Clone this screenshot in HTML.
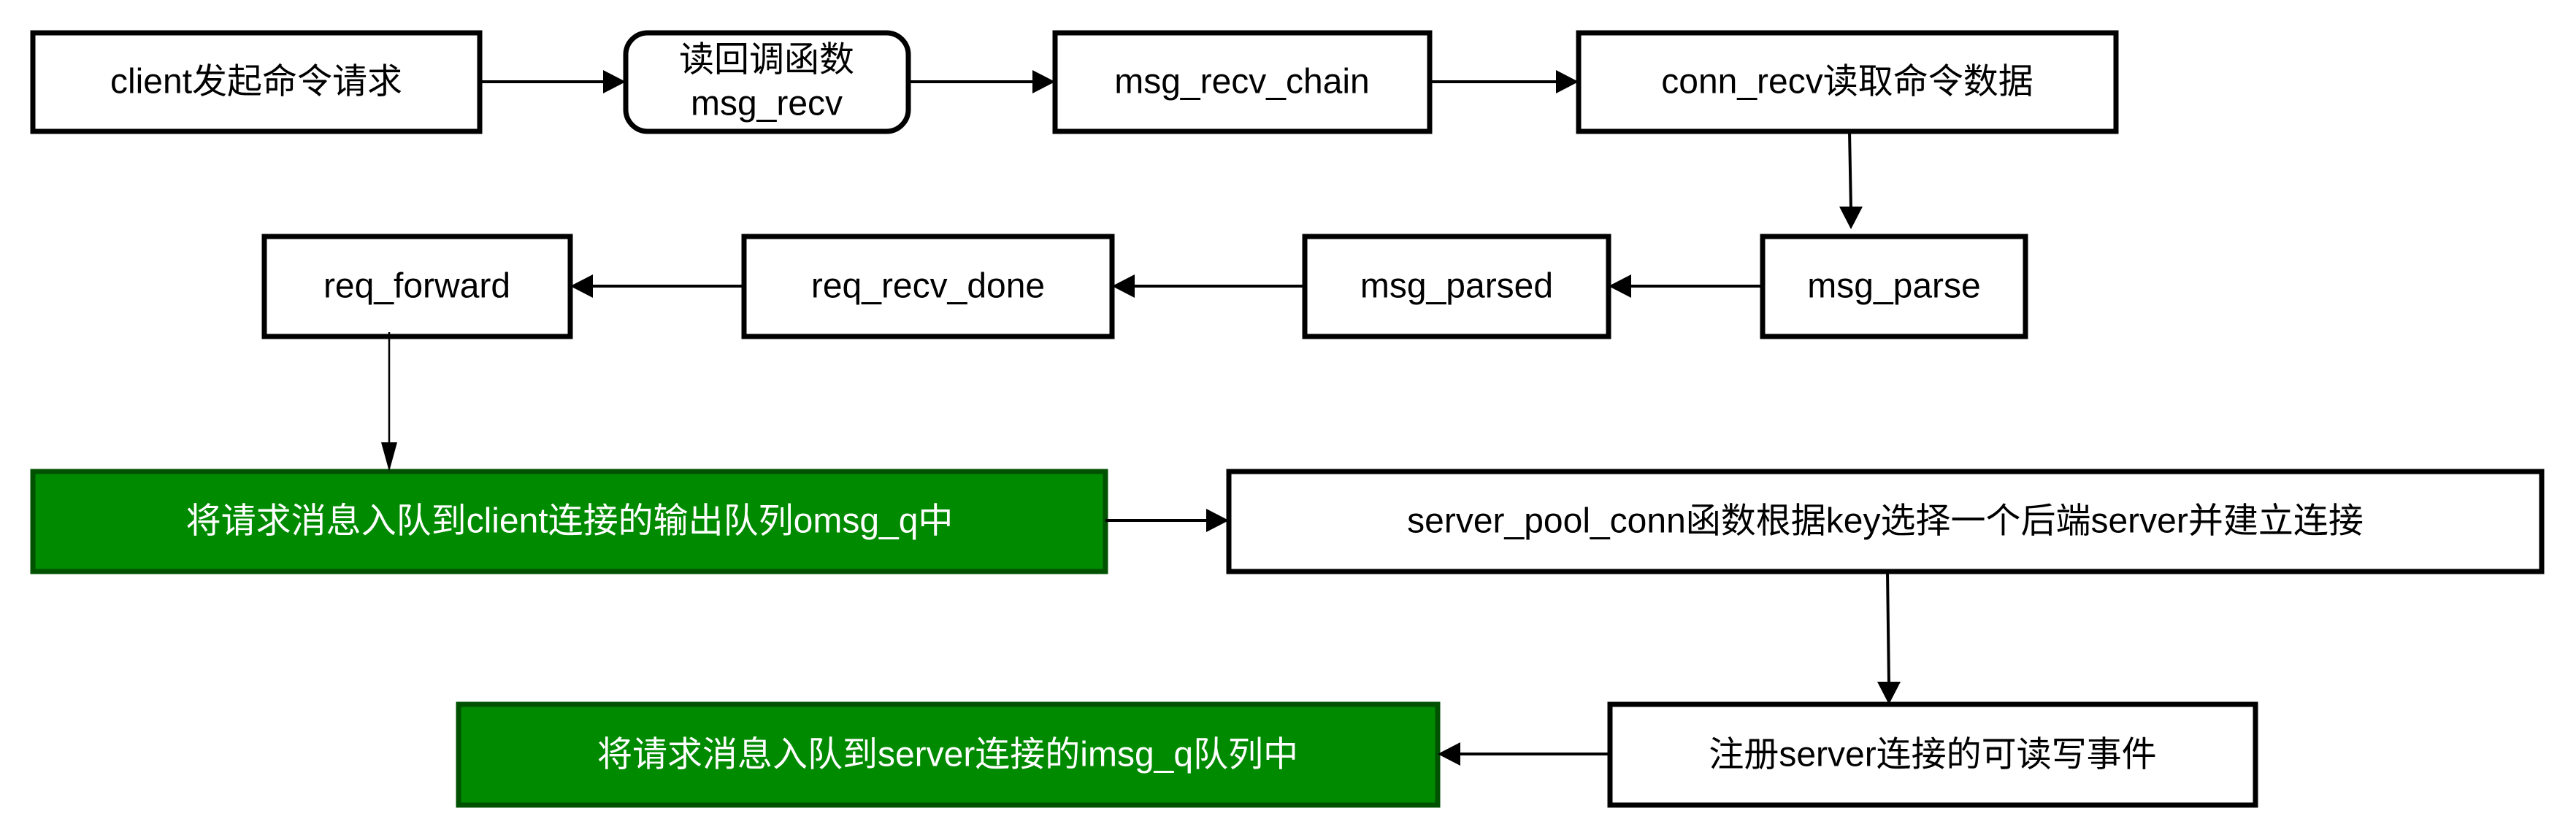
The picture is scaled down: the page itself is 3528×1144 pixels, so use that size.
<!DOCTYPE html>
<html><head><meta charset="utf-8"><style>
html,body{margin:0;padding:0;background:#fff}
svg{display:block}
text{font-family:"Liberation Sans","Noto Sans CJK SC",sans-serif;font-size:48px;text-anchor:middle;dominant-baseline:central}
</style></head><body>
<svg width="3528" height="1144" viewBox="0 0 3528 1144" xmlns="http://www.w3.org/2000/svg">
<g fill="#fff" stroke="#000" stroke-width="7">
<rect x="45" y="45" width="612" height="135"/>
<rect x="857" y="45" width="387" height="135" rx="30"/>
<rect x="1445" y="45" width="513" height="135"/>
<rect x="2162" y="45" width="736" height="135"/>
<rect x="362" y="324" width="419" height="137"/>
<rect x="1019" y="324" width="504" height="137"/>
<rect x="1787" y="324" width="416" height="137"/>
<rect x="2414" y="324" width="360" height="137"/>
<rect x="1683" y="646" width="1798" height="137"/>
<rect x="2205" y="965" width="884" height="138"/>
</g>
<g fill="#008a00" stroke="#005200" stroke-width="7">
<rect x="45" y="646" width="1469" height="137"/>
<rect x="628" y="965" width="1341" height="138"/>
</g>
<g stroke="#000" stroke-width="4" fill="none">
<line x1="657" y1="112" x2="830" y2="112"/>
<line x1="1244" y1="112" x2="1418" y2="112"/>
<line x1="1958" y1="112" x2="2135" y2="112"/>
<line x1="2533" y1="180" x2="2535" y2="287"/>
<line x1="2414" y1="392" x2="2230" y2="392"/>
<line x1="1787" y1="392" x2="1550" y2="392"/>
<line x1="1019" y1="392" x2="808" y2="392"/>
<line x1="533" y1="455" x2="533" y2="620" stroke-width="2.5"/>
<line x1="1514" y1="713" x2="1656" y2="713"/>
<line x1="2585" y1="783" x2="2587" y2="938"/>
<line x1="2205" y1="1033" x2="1996" y2="1033"/>
</g>
<g fill="#000">
<polygon points="857,112 826,96 826,128"/>
<polygon points="1445,112 1414,96 1414,128"/>
<polygon points="2162,112 2131,96 2131,128"/>
<polygon points="2535,314 2519,283 2551,283"/>
<polygon points="2203,392 2234,376 2234,408"/>
<polygon points="1523,392 1554,376 1554,408"/>
<polygon points="781,392 812,376 812,408"/>
<polygon points="533,646 522,606 544,606"/>
<polygon points="1683,713 1652,697 1652,729"/>
<polygon points="2587,965 2571,934 2603,934"/>
<polygon points="1969,1033 2000,1017 2000,1049"/>
</g>
<g fill="#000">
<text x="351" y="112">client发起命令请求</text>
<text x="1050" y="82">读回调函数</text>
<text x="1050" y="142">msg_recv</text>
<text x="1701" y="112">msg_recv_chain</text>
<text x="2530" y="112">conn_recv读取命令数据</text>
<text x="571" y="392">req_forward</text>
<text x="1271" y="392">req_recv_done</text>
<text x="1995" y="392">msg_parsed</text>
<text x="2594" y="392">msg_parse</text>
<text x="2582" y="714">server_pool_conn函数根据key选择一个后端server并建立连接</text>
<text x="2647" y="1034">注册server连接的可读写事件</text>
</g>
<g fill="#fff">
<text x="780" y="714">将请求消息入队到client连接的输出队列omsg_q中</text>
<text x="1298" y="1034">将请求消息入队到server连接的imsg_q队列中</text>
</g>
</svg>
</body></html>
